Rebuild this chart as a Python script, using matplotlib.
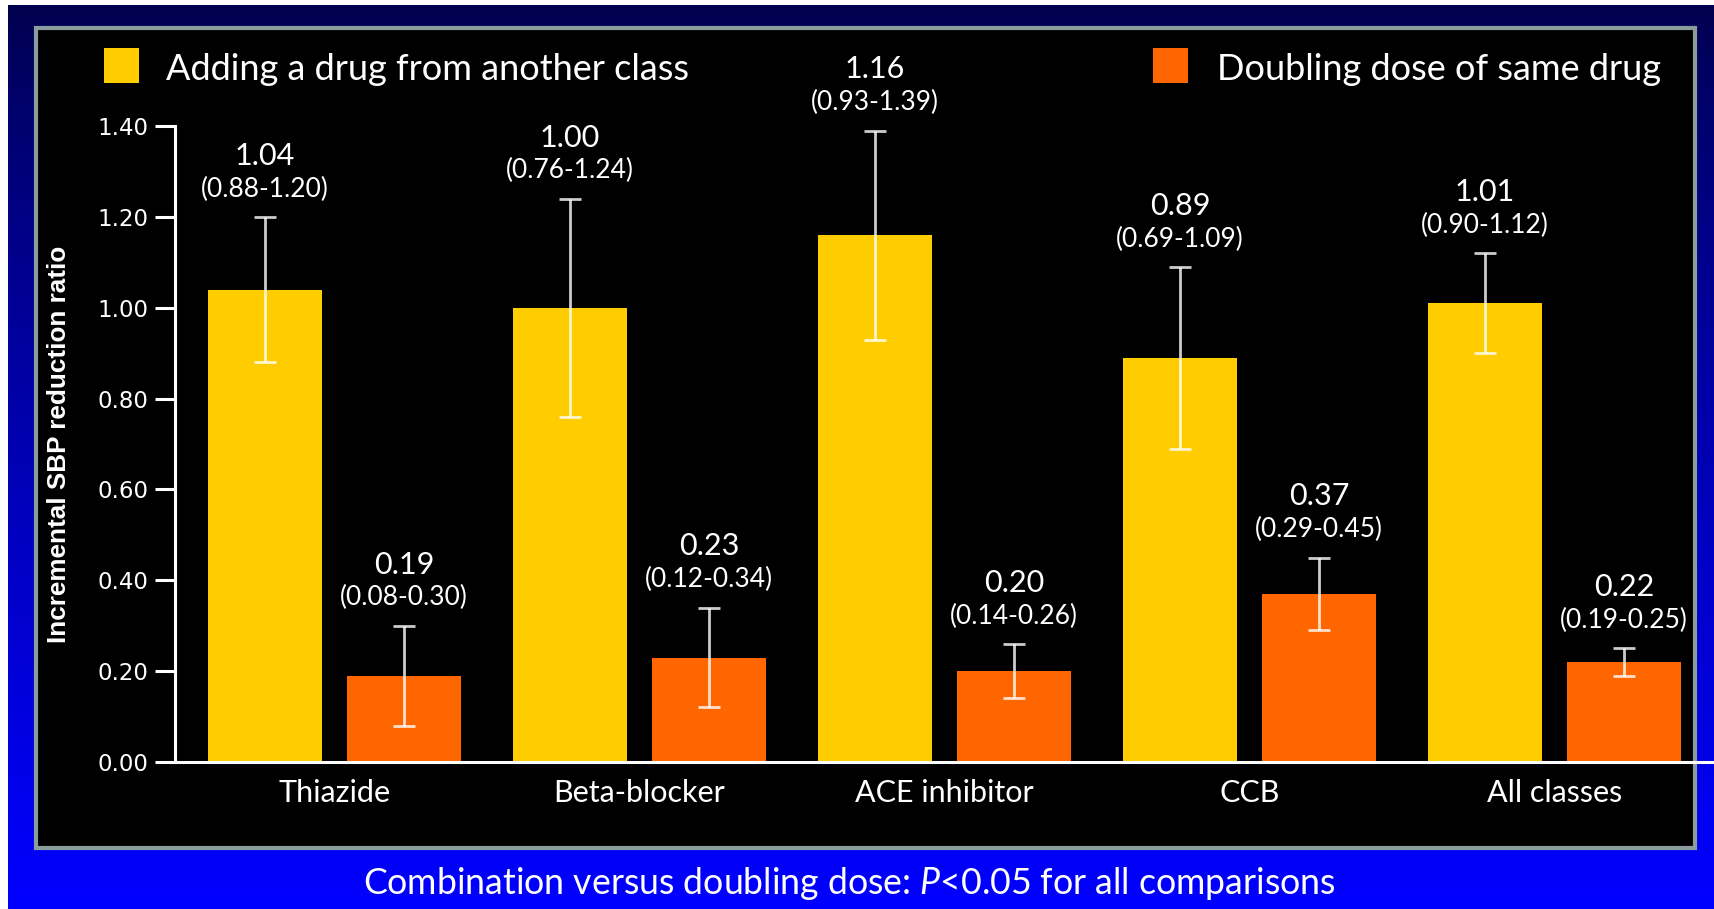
import matplotlib.pyplot as plt
import numpy as np
from matplotlib.patches import Rectangle

# data
classes = ["Thiazide", "Beta-blocker", "ACE inhibitor", "CCB", "All classes"]
add_mean = [1.04, 1.00, 1.16, 0.89, 1.01]
add_lo = [0.88, 0.76, 0.93, 0.69, 0.90]
add_hi = [1.20, 1.24, 1.39, 1.09, 1.12]
dbl_mean = [0.19, 0.23, 0.20, 0.37, 0.22]
dbl_lo = [0.08, 0.12, 0.14, 0.29, 0.19]
dbl_hi = [0.30, 0.34, 0.26, 0.45, 0.25]
yticks = [0.0, 0.2, 0.4, 0.6, 0.8, 1.0, 1.2, 1.4]

YELLOW = "#ffcc00"
ORANGE = "#ff6600"
W, H = 1714, 909

plt.rcParams["mathtext.fontset"] = "custom"
plt.rcParams["mathtext.rm"] = "Lato"
plt.rcParams["mathtext.it"] = "Lato:italic"

fig = plt.figure(figsize=(W / 100, H / 100), dpi=100)
fig.patch.set_facecolor("white")


def fx(px):
    return px / W


def fy(py):
    return 1 - py / H


# blue gradient background
bg = fig.add_axes([fx(8), 0, 1 - fx(8), fy(5)], zorder=-2)
grad = np.linspace(0, 1, 256) ** 0.8
img = np.zeros((256, 2, 3))
img[:, :, 2] = (0.30 + 0.70 * grad)[:, None]
bg.imshow(img, aspect="auto", extent=[0, 1, 1, 0])
bg.set_axis_off()

# black panel with grey frame
bg.add_patch(Rectangle((fx(36), fy(848)), fx(1695) - fx(36), fy(28) - fy(848),
                       transform=fig.transFigure, facecolor="black",
                       edgecolor="#8a9c9c", linewidth=3, clip_on=False))

ax = fig.add_axes([fx(175), fy(762), fx(1713) - fx(175), fy(126) - fy(762)])
ax.set_facecolor("none")

x = np.arange(len(classes))
bw = 0.374
off = 0.228
add_err = [np.subtract(add_mean, add_lo), np.subtract(add_hi, add_mean)]
dbl_err = [np.subtract(dbl_mean, dbl_lo), np.subtract(dbl_hi, dbl_mean)]
ekw = dict(ecolor="white", elinewidth=2, capsize=8, capthick=2, alpha=0.8)
ax.bar(x - off, add_mean, bw, color=YELLOW, zorder=2)
ax.bar(x + off, dbl_mean, bw, color=ORANGE, zorder=2)
ax.errorbar(x - off, add_mean, yerr=add_err, fmt="none", zorder=3, **ekw)
ax.errorbar(x + off, dbl_mean, yerr=dbl_err, fmt="none", zorder=3, **ekw)

for xs, m, lo, hi in [(x - off, add_mean, add_lo, add_hi), (x + off, dbl_mean, dbl_lo, dbl_hi)]:
    for xi, mi, l, h in zip(xs, m, lo, hi):
        ax.annotate(f"{mi:.2f}", (xi, h), xytext=(0, 44), textcoords="offset points",
                    ha="center", va="center", color="white", fontsize=22, family="Lato")
        ax.annotate(f"({l:.2f}-{h:.2f})", (xi, h), xytext=(0, 20), textcoords="offset points",
                    ha="center", va="center", color="white", fontsize=19, family="Lato")

ax.set_xlim(-0.523, 4.52)
ax.set_ylim(0, 1.4)
ax.set_yticks(yticks)
ax.set_yticklabels([f"{v:.2f}" for v in yticks], family="DejaVu Sans", fontsize=16.5, color="white")
ax.set_xticks(x)
ax.set_xticklabels(classes, family="Lato", fontsize=22, color="white")
ax.tick_params(axis="x", length=0, pad=12)
ax.tick_params(axis="y", length=14.4, width=2.2, color="white", pad=5)
for s in ["top", "right"]:
    ax.spines[s].set_visible(False)
for s in ["left", "bottom"]:
    ax.spines[s].set_color("white")
    ax.spines[s].set_linewidth(2.2)
ax.set_ylabel("Incremental SBP reduction ratio", family="Liberation Sans",
              fontweight="bold", fontsize=18.8, color="white", va="center")
ax.yaxis.set_label_coords(-0.0757, 0.5)

# legend
fig.patches.append(Rectangle((fx(104), fy(83)), fx(35), fy(48) - fy(83), transform=fig.transFigure,
                             facecolor=YELLOW, zorder=3))
fig.text(fx(166), fy(69), "Adding a drug from another class", family="Lato", fontsize=26,
         color="white", va="center", ha="left")
fig.patches.append(Rectangle((fx(1153), fy(83)), fx(35), fy(48) - fy(83), transform=fig.transFigure,
                             facecolor=ORANGE, zorder=3))
fig.text(fx(1217), fy(69), "Doubling dose of same drug", family="Lato", fontsize=26,
         color="white", va="center", ha="left")

fig.text(fx(849), fy(883), r"Combination versus doubling dose: $\mathit{P}$<0.05 for all comparisons",
         family="Lato", fontsize=25.7, color="white", ha="center", va="center")

fig.savefig("out.png", dpi=100)
